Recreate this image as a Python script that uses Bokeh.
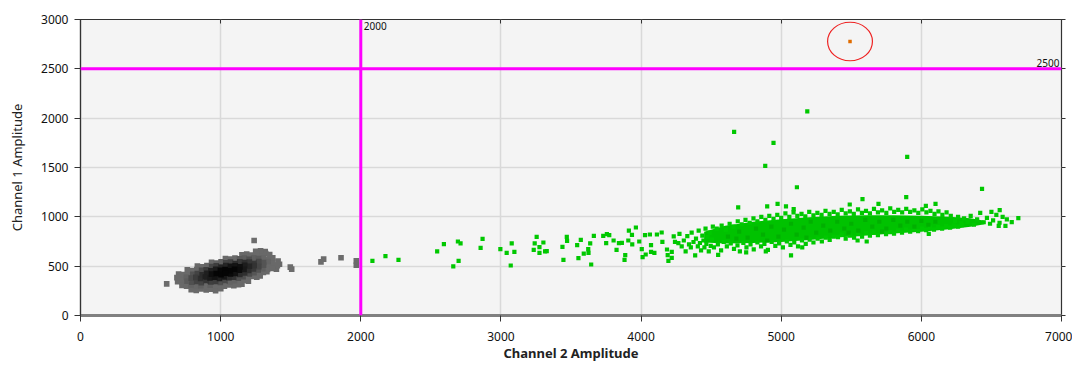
import numpy as np
from bokeh.plotting import figure
from bokeh.models import Range1d, FixedTicker, Span, Label, LinearAxis
from bokeh.embed import file_html
from bokeh.resources import INLINE

# ---------------- data ----------------
x_ticks = [0, 1000, 2000, 3000, 4000, 5000, 6000, 7000]
y_ticks = [0, 500, 1000, 1500, 2000, 2500, 3000]
threshold_ch2 = 2000
threshold_ch1 = 2500

# negative droplets (grey/black density cluster)
gray_pts = [
    (790,262),(826,255),(861,268),(897,258),(931,266),(964,252),(1001,271),
    (724,305),(757,296),(789,309),(822,298),(858,303),(891,294),(925,308),(959,299),(993,306),(1027,296),(1062,310),(1094,301),(1128,312),(1152,318),
    (693,342),(727,336),(760,347),(795,338),(829,344),(862,333),(897,349),(930,339),(964,345),(998,335),(1031,350),(1066,340),(1099,352),(1133,343),(1167,356),(1198,348),
    (688,384),(722,377),(755,388),(790,379),(823,386),(857,375),(891,390),(924,381),(958,387),(992,376),(1025,391),(1059,382),(1093,389),(1126,378),(1160,393),(1194,384),(1227,396),(1258,389),(1282,401),
    (700,421),(733,415),(767,426),(801,417),(834,424),(868,413),(902,428),(935,419),(969,425),(1003,414),(1036,429),(1070,420),(1104,427),(1137,416),(1171,431),(1205,422),(1238,433),(1272,425),(1305,437),(1330,444),
    (762,462),(796,455),(830,466),(864,457),(897,464),(931,453),(965,468),(998,459),(1032,465),(1066,454),(1099,469),(1133,460),(1167,467),(1200,456),(1234,471),(1268,462),(1301,474),(1335,466),(1368,478),(1398,470),
    (834,500),(868,494),(902,505),(936,496),(969,503),(1003,492),(1037,507),(1070,498),(1104,504),(1138,493),(1171,508),(1205,499),(1239,506),(1272,495),(1306,510),(1340,501),(1373,513),(1405,505),(1420,520),
    (935,538),(969,532),(1003,543),(1036,534),(1070,541),(1104,530),(1137,545),(1171,536),(1205,542),(1238,531),(1272,546),(1306,537),(1339,548),(1373,540),(1410,551),
    (1034,578),(1068,572),(1102,583),(1135,574),(1169,581),(1203,570),(1236,585),(1270,576),(1304,582),(1337,571),(1372,586),
    (1152,615),(1186,622),(1220,612),(1254,626),(1288,617),(1322,628),(1350,619),
    (1250,650),(1285,655),(1318,647),
]
gray_stray = [(615,321),(1239,760),(1497,490),(1507,470),(1716,544),(1735,571),(1859,585),(1968,554),(1968,510)]

# positive droplets: sparse trail towards the cluster
green_trail = [
    (2083,554),(2176,601),(2269,564),(2545,649),(2593,723),(2660,497),(2693,750),(2698,554),(2712,730),
    (2855,686),(2869,777),(2996,672),(3041,635),(3070,507),(3077,730),(3096,645),(3234,666),(3241,730),
    (3255,797),(3275,692),(3275,635),(3303,740),(3315,649),(3327,652),(3439,696),(3446,564),(3470,797),
    (3472,757),(3544,713),(3553,581),(3570,767),(3591,628),(3623,672),(3625,635),(3637,730),(3644,517),
    (3663,808),(3730,808),(3756,824),(3773,814),(3751,733),(3804,760),(3825,666),(3842,733),(3863,737),
    (3887,611),(3882,564),(3913,861),(3935,818),(3909,760),(3937,720),(3963,892),(3987,750),(4005,672),
    (4011,591),(4028,814),(4033,618),(4063,821),(4071,713),(4071,645),(4095,635),(4113,821),(4147,841),
    (4152,747),(4185,669),(4190,611),(4195,554),(4219,645),(4233,801),(4242,747),(4266,733),(4274,828),(4219,585),
]
# positive droplets: edges of the main cluster
green_band = [
    (4290,700),(4305,760),(4318,650),(4330,805),(4342,720),(4355,690),(4361,840),(4374,745),(4386,610),(4392,780),
    (4405,700),(4411,860),(4420,735),(4428,660),(4437,810),(4445,760),(4452,690),(4460,880),(4466,725),(4474,795),
    (4483,650),(4490,840),(4497,705),(4505,770),(4512,900),
    (4520,690),(4548,720),(4571,660),(4590,745),(4612,700),(4640,730),(4663,675),(4688,710),(4705,650),(4730,735),
    (4752,690),(4781,720),(4804,670),(4830,740),(4856,700),(4880,725),(4905,665),(4932,745),(4958,705),(4985,730),
    (5012,690),(5040,750),(5066,715),(5093,740),(5120,700),(5148,760),(5175,725),(5203,770),(5230,740),(5260,780),
    (5290,750),(5318,790),(5346,765),(5375,800),(4550,615),(5070,610),(4750,640),(4890,650),(5150,690),
    (5405,795),(5432,820),(5460,780),(5490,810),(5520,790),(5548,825),(5577,800),(5605,835),(5633,810),(5662,840),
    (5690,815),(5720,850),(5748,825),(5777,845),(5805,830),(5834,860),(5862,840),(5890,870),(5920,850),(5948,875),
    (5977,855),(6005,880),(6034,865),(6062,890),(6090,870),(6120,895),(6148,880),(6176,905),(6205,890),(6234,910),
    (6262,900),(6290,915),(5545,760),(5610,750),(6053,828),
    (4540,880),(4575,910),(4605,870),(4632,930),(4660,900),(4690,955),(4718,925),(4745,970),(4775,940),(4802,985),
    (4830,955),(4858,1000),(4887,970),(4915,1010),(4945,980),(4972,1020),(5000,990),(5030,1035),(5058,1000),(5088,1045),
    (5115,1010),(5145,1030),(5172,1005),(5200,1050),(5230,1015),(5258,1040),(5288,1020),(5316,1060),(5345,1030),(5375,1050),
    (5403,1025),(5432,1070),(5460,1035),(5490,1055),(5518,1030),(5548,1075),(5576,1040),(5605,1060),(5633,1035),(5662,1080),
    (5690,1045),(5720,1065),(5750,1040),(5778,1085),(5806,1050),(5835,1070),(5863,1045),(5892,1080),(5920,1050),(5950,1065),
    (5978,1040),(6007,1075),(6036,1045),(6065,1060),(6094,1030),(6122,1055),(6150,1020),(6180,1045),(6210,1010),
    (6240,960),(6262,1000),(6285,935),(6305,985),(6330,950),(6352,1010),(6375,920),(6398,975),(6420,1040),(6445,945),
    (6468,990),(6490,930),(6512,965),(6535,1020),(6558,940),(6552,909),(6600,909),(6645,946),(6692,986),(6559,1067),
    (6610,975),(6580,1000),(6500,1050),
]
# positive droplets inside the dense core
green_inner = [
    (4620,800),(4700,850),(4760,790),(4820,880),(4870,820),(4930,900),(4980,800),(5020,870),(5070,930),(5110,820),
    (5160,890),(5210,950),(5250,840),(5300,910),(5350,860),(5400,950),(5450,880),(5500,930),(5550,860),(5600,970),
    (5650,900),(5700,950),(5750,880),(5800,970),(5850,910),(5900,950),(5950,900),(6000,960),(6050,920),(6100,950),
    (4680,780),(4900,760),(5180,790),(5480,840),(5720,850),
]
green_outliers = [
    (4693,1095),(4900,1105),(4974,1132),(5034,1105),(5089,1078),(5489,1125),(5580,1179),(5694,1132),(5892,1199),
    (6032,1112),(6101,1132),(5112,1300),(6433,1284),(4886,1517),(5899,1608),(4945,1750),(4664,1862),(5186,2068),
]
# dense core of the positive cluster (outline)
core_x     = [4450, 4600, 4800, 5000, 5200, 5400, 5600, 5800, 6000, 6200, 6350, 6450]
core_lower = [740,  730,  735,  745,  765,  790,  810,  830,  850,  875,  900,  925]
core_upper = [850,  910,  950,  975,  995, 1010, 1015, 1015, 1010, 1000,  985,  960]

# highlighted droplet (double positive)
flag_x = [5491]
flag_y = [2777]

# ---------------- figure ----------------
FONT = "Noto Sans"
p = figure(width=1072, height=365, output_backend="svg", toolbar_location=None,
           x_range=Range1d(0, 7000), y_range=Range1d(0, 3000),
           min_border_left=80, min_border_right=11, min_border_top=19, min_border_bottom=50,
           background_fill_color="#f4f4f4", border_fill_color="white")
p.outline_line_color = "#333333"
p.outline_line_width = 1.2

p.xgrid.ticker = FixedTicker(ticks=x_ticks)
p.ygrid.ticker = FixedTicker(ticks=y_ticks)
p.grid.grid_line_color = "#d9d9d9"
p.grid.grid_line_width = 1.5

xa = p.xaxis[0]
xa.ticker = FixedTicker(ticks=x_ticks)
xa.axis_label = "Channel 2 Amplitude"
xa.axis_label_text_font = FONT
xa.axis_label_text_font_style = "bold"
xa.axis_label_text_font_size = "13px"
xa.axis_label_text_color = "#222222"
xa.axis_label_standoff = 0
xa.axis_line_color = "#808080"
xa.axis_line_width = 3
xa.major_tick_line_color = "#333333"
xa.major_tick_out = 6
xa.major_tick_in = 0
xa.minor_tick_line_color = None
xa.major_label_text_font = FONT
xa.major_label_text_font_size = "12px"
xa.major_label_text_color = "#111111"
xa.major_label_standoff = 10

ya = p.yaxis[0]
ya.ticker = FixedTicker(ticks=y_ticks)
ya.axis_label = "Channel 1 Amplitude"
ya.axis_label_text_font = FONT
ya.axis_label_text_font_style = "normal"
ya.axis_label_text_font_size = "13px"
ya.axis_label_text_color = "#222222"
ya.axis_label_standoff = 12
ya.axis_line_color = "#333333"
ya.axis_line_width = 1.2
ya.major_tick_line_color = "#333333"
ya.major_tick_out = 6
ya.major_tick_in = 0
ya.minor_tick_line_color = None
ya.major_label_text_font = FONT
ya.major_label_text_font_size = "12px"
ya.major_label_text_color = "#111111"
ya.major_label_standoff = 6

top = LinearAxis(ticker=FixedTicker(ticks=x_ticks),
                 major_label_overrides={t: "" for t in x_ticks},
                 major_tick_in=4, major_tick_out=0, minor_tick_line_color=None,
                 axis_line_color=None, major_tick_line_color="#333333", major_label_standoff=0)
p.add_layout(top, "above")
right = LinearAxis(ticker=FixedTicker(ticks=y_ticks),
                   major_label_overrides={t: "" for t in y_ticks},
                   major_tick_in=0, major_tick_out=4, minor_tick_line_color=None,
                   axis_line_color=None, major_tick_line_color="#333333", major_label_standoff=0)
p.add_layout(right, "right")

# grey cluster with density shading
g_all = gray_pts + gray_stray
gx = np.array([a for a, b in g_all], dtype=float)
gy = np.array([b for a, b in g_all], dtype=float)
u = (gx - 1040) / 330.0
v = (gy - 445 - 0.30 * (gx - 1040)) / 125.0
r = np.sqrt(u ** 2 + v ** 2)
lvl = 5 + 100 * np.clip((r - 0.22) / 0.72, 0, 1) ** 1.2
lvl[len(gray_pts):] = 108
order = np.argsort(-lvl)
cols = ["#%02x%02x%02x" % (int(l), int(l), int(l)) for l in lvl[order]]
p.scatter(x=gx[order], y=gy[order], marker="square", size=5.6, fill_color=cols,
          line_color=None)

# green cluster
p.varea(x=core_x, y1=core_lower, y2=core_upper, fill_color="#00c200")
gr = green_trail + green_band + green_outliers
p.scatter(x=[a for a, b in gr], y=[b for a, b in gr], marker="square", size=4.2,
          fill_color="#00c800", line_color=None)
p.scatter(x=[a for a, b in green_inner], y=[b for a, b in green_inner], marker="square",
          size=4.2, fill_color="#00b000", line_color=None)

# thresholds
p.add_layout(Span(location=threshold_ch2, dimension="height", line_color="#ff00ff", line_width=3))
p.add_layout(Span(location=threshold_ch1, dimension="width", line_color="#ff00ff", line_width=3))
p.add_layout(Label(x=threshold_ch2, y=3000, text=str(threshold_ch2), x_offset=3, y_offset=-2,
                   text_baseline="top", text_font=FONT, text_font_size="10px", text_color="#111111"))
p.add_layout(Label(x=7000, y=threshold_ch1, text=str(threshold_ch1), x_offset=-2, y_offset=2,
                   text_align="right", text_baseline="bottom", text_font=FONT,
                   text_font_size="10px", text_color="#111111"))

# highlighted droplet
p.scatter(x=flag_x, y=flag_y, marker="square", size=3.5, fill_color="#e06c00", line_color=None)
p.ellipse(x=flag_x, y=flag_y, width=320, height=390, fill_color=None,
          line_color="#ee2222", line_width=1.2)

open("out.html", "w").write(file_html(p, INLINE))
